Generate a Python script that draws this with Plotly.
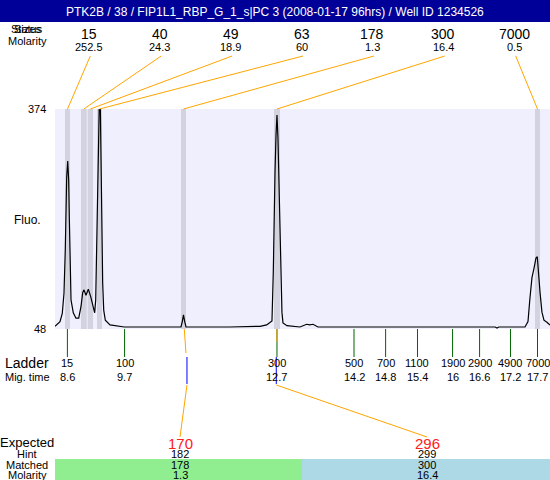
import plotly.graph_objects as go

W, H = 550, 480
L, R, T, B = 55, 550, 109, 329  # plot area in pixels

TITLE = "PTK2B / 38 / FIP1L1_RBP_G_1_s|PC 3 (2008-01-17 96hrs) / Well ID 1234526"

X_RANGE = [8.36, 17.942]
Y_RANGE = [48, 374]

# electropherogram
mig_time = [8.360, 8.457, 8.501, 8.534, 8.559, 8.573, 8.586, 8.606, 8.625, 8.637,
            8.650, 8.670, 8.714, 8.766, 8.819, 8.863, 8.896, 8.921, 8.960, 9.005,
            9.051, 9.096, 9.128, 9.148, 9.167, 9.187, 9.206, 9.217, 9.237, 9.250,
            9.270, 9.283, 9.303, 9.334, 9.425, 9.701, 10.199, 10.799, 10.824, 10.847,
            10.871, 10.896, 11.747, 12.328, 12.458, 12.521, 12.560, 12.586, 12.599, 12.619,
            12.638, 12.657, 12.676, 12.696, 12.715, 12.734, 12.753, 12.773, 12.850, 13.102,
            13.232, 13.290, 13.354, 13.451, 14.399, 14.440, 14.477, 14.554, 14.600, 15.038,
            16.880, 16.916, 16.950, 17.458, 17.516, 17.554, 17.593, 17.632, 17.670, 17.696,
            17.709, 17.748, 17.786, 17.825, 17.883, 17.942]
fluo = [52, 59, 71, 101, 165, 239, 273, 297, 268, 214,
        140, 91, 72, 64, 64, 81, 102, 106, 98, 107,
        96, 81, 72, 91, 165, 239, 328, 380, 380, 288,
        190, 116, 76, 61, 54, 51, 51, 51, 59, 69,
        59, 51, 51, 52, 54, 57, 60, 133, 222, 281,
        335, 365, 331, 257, 172, 103, 73, 57, 53, 51,
        55, 54, 55, 51, 51, 52, 51, 52, 51, 51,
        51, 49.5, 51, 51, 59, 94, 124, 138, 153, 155,
        138, 103, 73, 61, 58, 54]

# detected peaks
peak_size = ["15", "40", "49", "63", "178", "300", "7000"]
peak_molarity = ["252.5", "24.3", "18.9", "60", "1.3", "16.4", "0.5"]
peak_time = [8.602, 8.918, 9.044, 9.221, 10.847, 12.657, 17.700]
peak_start = [8.554, 8.863, 8.993, 9.173, 10.799, 12.599, 17.651]
peak_end = [8.650, 8.974, 9.096, 9.270, 10.896, 12.715, 17.748]

# ladder
ladder_size = ["15", "100", "300", "500", "700", "1100", "1900", "2900", "4900", "7000"]
ladder_mig = ["8.6", "9.7", "12.7", "14.2", "14.8", "15.4", "16", "16.6", "17.2", "17.7"]
ladder_time = [8.600, 9.707, 12.657, 14.148, 14.760, 15.377, 16.056, 16.579, 17.177, 17.700]

# expected fragments
expected = ["170", "296"]
hint = ["182", "299"]
matched = ["178", "300"]
matched_molarity = ["1.3", "16.4"]
matched_peak = [4, 5]

ORANGE = "#FFA500"
BLUE = "#0000FF"
GREEN = "#006400"
FONT = "Liberation Sans, Arial, sans-serif"


def px(x):
    return (x - L) / (R - L)


def py(y):
    return (B - y) / (B - T)


def tpx(t):
    return L + (t - X_RANGE[0]) / (X_RANGE[1] - X_RANGE[0]) * (R - L)


def ann(text, x, y, size=11, color="black", xanchor="center", xref="paper"):
    return dict(text=text, x=x, y=y, xref=xref, yref="paper", showarrow=False,
                xanchor=xanchor, yanchor="middle",
                font=dict(size=size, color=color, family=FONT))


def seg(x0, y0, x1, y1, color, width=1):
    return dict(type="line", xref="paper", yref="paper",
                x0=px(x0), y0=py(y0), x1=px(x1), y1=py(y1),
                line=dict(color=color, width=width))


fig = go.Figure(go.Scatter(x=mig_time, y=fluo, mode="lines",
                           line=dict(color="black", width=1.2), hoverinfo="skip"))

shapes = []
annotations = []

# title bar
shapes.append(dict(type="rect", xref="paper", yref="paper", x0=px(0), x1=px(W),
                   y0=py(22), y1=py(0), fillcolor="#000099", line=dict(width=0)))
annotations.append(ann(TITLE, px(W / 2), py(12), size=12, color="white"))

# peak bands
for s, e in zip(peak_start, peak_end):
    shapes.append(dict(type="rect", xref="x", yref="paper", x0=s, x1=e, y0=0, y1=1,
                       fillcolor="#D3D3DF", line=dict(width=0), layer="below"))

# top peak table + connectors
annotations.append(ann("Sizes", px(27), py(29), size=11))
annotations.append(ann("Status", px(27), py(29), size=11))
annotations.append(ann("Molarity", px(27), py(41), size=11))
for i, (sz, mol, t) in enumerate(zip(peak_size, peak_molarity, peak_time)):
    lx = 88.8 + 70.9 * i
    annotations.append(ann(sz, px(lx), py(34), size=14))
    annotations.append(ann(mol, px(lx), py(47), size=11))
    shapes.append(seg(lx + 1.5, 56, tpx(t), T, ORANGE))

# y labels
annotations.append(ann(str(Y_RANGE[1]), px(48), py(T), size=11, xanchor="right"))
annotations.append(ann(str(Y_RANGE[0]), px(48), py(B), size=11, xanchor="right"))
annotations.append(ann("Fluo.", px(27), py(220), size=12))

# ladder
for sz, mig, t in zip(ladder_size, ladder_mig, ladder_time):
    shapes.append(dict(type="line", xref="x", yref="paper", x0=t, x1=t,
                       y0=0, y1=py(357), line=dict(color=GREEN, width=1)))
    annotations.append(ann(sz, t, py(363), size=11, xref="x"))
    annotations.append(ann(mig, t, py(377), size=11, xref="x"))
annotations.append(ann("Ladder", px(27), py(363), size=14))
annotations.append(ann("Mig. time", px(27), py(377), size=11))

# expected row bands
shapes.append(dict(type="rect", xref="paper", yref="paper", x0=px(55), x1=px(302),
                   y0=py(480), y1=py(459), fillcolor="#90EE90", line=dict(width=0)))
shapes.append(dict(type="rect", xref="paper", yref="paper", x0=px(302), x1=px(550),
                   y0=py(480), y1=py(459), fillcolor="#ADD8E6", line=dict(width=0)))

# connectors from matched peaks to expected fragments
exp_x = [180, 427]
for k, (pk, ex) in enumerate(zip(matched_peak, exp_x)):
    p = tpx(peak_time[pk])
    if k == 0:
        shapes.append(seg(p + 0.8, B, p + 2.5, 353, ORANGE))
    else:
        shapes.append(seg(p, B, p, 342, ORANGE))
    bx = p + 3.5 if k == 0 else p - 0.7
    shapes.append(seg(bx, 357, bx, 384, BLUE))
    shapes.append(seg(bx, 385, ex, 437, ORANGE))
    annotations.append(ann(expected[k], px(ex), py(443), size=15, color="#FF2020"))
    annotations.append(ann(hint[k], px(ex), py(454), size=11))
    annotations.append(ann(matched[k], px(ex), py(465), size=11))
    annotations.append(ann(matched_molarity[k], px(ex), py(475), size=11))

annotations.append(ann("Expected", px(27), py(442), size=13))
annotations.append(ann("Hint", px(27), py(454), size=11))
annotations.append(ann("Matched", px(27), py(465), size=11))
annotations.append(ann("Molarity", px(27), py(475), size=11))

fig.update_layout(
    width=W, height=H, autosize=False,
    margin=dict(l=L, r=W - R, t=T, b=H - B, pad=0),
    paper_bgcolor="white", plot_bgcolor="#EFEFFD",
    font=dict(family=FONT, size=11, color="black"),
    showlegend=False,
    xaxis=dict(range=X_RANGE, visible=False, fixedrange=True),
    yaxis=dict(range=Y_RANGE, visible=False, fixedrange=True),
    shapes=shapes, annotations=annotations,
)

fig.write_html("out.html", config={"displayModeBar": False},
               post_script="document.body.style.margin='0';document.body.style.overflow='hidden';")
